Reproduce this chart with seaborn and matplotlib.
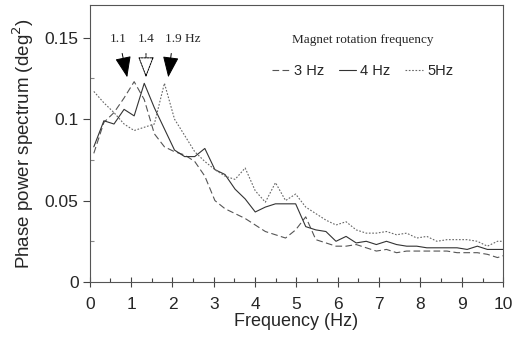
import matplotlib
matplotlib.use("Agg")
import matplotlib.pyplot as plt
from matplotlib.ticker import MultipleLocator, FixedLocator
import numpy as np
import pandas as pd
import seaborn as sns

# frequency bins (Hz), ~0.244 Hz resolution
freq = np.round(0.0977 + 0.2441 * np.arange(42), 3)

hz3 = [0.079, 0.098, 0.104, 0.113, 0.123, 0.112, 0.091, 0.083, 0.080, 0.078,
       0.074, 0.065, 0.050, 0.045, 0.042, 0.039, 0.035, 0.031, 0.029, 0.027,
       0.032, 0.040, 0.026, 0.024, 0.022, 0.022, 0.023, 0.021, 0.019, 0.020,
       0.018, 0.019, 0.019, 0.019, 0.019, 0.019, 0.018, 0.018, 0.018, 0.017,
       0.015, 0.017]
hz4 = [0.083, 0.099, 0.097, 0.106, 0.102, 0.122, 0.107, 0.094, 0.081, 0.077,
       0.077, 0.082, 0.069, 0.066, 0.057, 0.051, 0.043, 0.046, 0.048, 0.048,
       0.048, 0.034, 0.032, 0.031, 0.025, 0.028, 0.024, 0.025, 0.023, 0.025,
       0.023, 0.022, 0.022, 0.021, 0.021, 0.021, 0.021, 0.020, 0.022, 0.020,
       0.020, 0.020]
hz5 = [0.117, 0.110, 0.104, 0.097, 0.093, 0.095, 0.097, 0.122, 0.100, 0.090,
       0.080, 0.074, 0.069, 0.065, 0.063, 0.070, 0.056, 0.049, 0.061, 0.050,
       0.054, 0.046, 0.042, 0.038, 0.035, 0.037, 0.032, 0.030, 0.030, 0.031,
       0.029, 0.030, 0.027, 0.028, 0.025, 0.026, 0.026, 0.026, 0.025, 0.022,
       0.025, 0.025]

series_labels = ["3 Hz", "4 Hz", "5Hz"]
peak_labels = ["1.1", "1.4", "1.9 Hz"]
peak_freqs = [0.92, 1.36, 1.89]
yticks = [0, 0.05, 0.1, 0.15]
ytick_labels = ["0", "0.05", "0.1", "0.15"]

sns.set_style("ticks")
plt.rcParams["font.family"] = ["Liberation Sans", "DejaVu Sans"]

fig = plt.figure(figsize=(5.28, 3.41), dpi=100)
ax = fig.add_axes([0.170, 0.173, 0.783, 0.812])

styles = [((0, (6, 3)), "#555555"), ("-", "#333333"), ((0, (1.5, 1.5)), "#666666")]
for vals, lab, (ls, col) in zip([hz3, hz4, hz5], series_labels, styles):
    sns.lineplot(x=freq, y=vals, ax=ax, color=col, linewidth=0.8,
                 linestyle=ls, label=lab)

ax.set_xlim(0, 10)
ax.set_ylim(0, 0.17)
ax.xaxis.set_major_locator(MultipleLocator(1))
ax.xaxis.set_minor_locator(MultipleLocator(0.5))
ax.yaxis.set_major_locator(FixedLocator(yticks))
ax.set_yticklabels(ytick_labels)
ax.yaxis.set_minor_locator(MultipleLocator(0.025))
ax.tick_params(axis="x", which="major", direction="inout", length=7,
               width=0.8, color="#444444", labelsize=12.5, pad=7)
ax.tick_params(axis="x", which="minor", direction="in", length=3,
               width=0.8, color="#444444")
ax.tick_params(axis="y", which="major", direction="out", length=5,
               width=0.8, color="#444444", labelsize=12.5, pad=3)
ax.tick_params(axis="y", which="minor", direction="in", length=3,
               width=0.8, color="#888888")
for s in ax.spines.values():
    s.set_color("#555555")
    s.set_linewidth(0.8)

ax.set_xlabel("Frequency (Hz)", fontsize=13, labelpad=1)
ax.set_ylabel("Phase power spectrum (deg$^2$)", fontsize=13.5, labelpad=6)

# peak arrows
tails = [(0.77, 0.142), (1.36, 0.142), (1.98, 0.142)]
fills = ["black", "white", "black"]
for lab, pf, (tx, ty), fc in zip(peak_labels, peak_freqs, tails, fills):
    ax.annotate("", xy=(pf, 0.124), xytext=(tx, ty),
                arrowprops=dict(arrowstyle="-|>,head_length=1.3,head_width=0.5",
                                fc=fc, ec="black", lw=0.7,
                                ls="-" if fc == "black" else (0, (2, 1))))
ax.text(0.70, 0.149, peak_labels[0], ha="center", va="center",
        family="Liberation Serif", fontsize=9.5)
ax.text(1.36, 0.149, peak_labels[1], ha="center", va="center",
        family="Liberation Serif", fontsize=9.5)
ax.text(2.25, 0.149, peak_labels[2], ha="center", va="center",
        family="Liberation Serif", fontsize=9.5)

leg = ax.legend(loc="center", bbox_to_anchor=(0.66, 0.815), ncol=3,
                frameon=False, handlelength=1.2, handletextpad=0.3,
                columnspacing=1.0, fontsize=10.5,
                title="Magnet rotation frequency",
                title_fontproperties={"family": "Liberation Serif", "size": 9.5})
leg._legend_box.sep = 13

fig.savefig("out.png", dpi=100)
